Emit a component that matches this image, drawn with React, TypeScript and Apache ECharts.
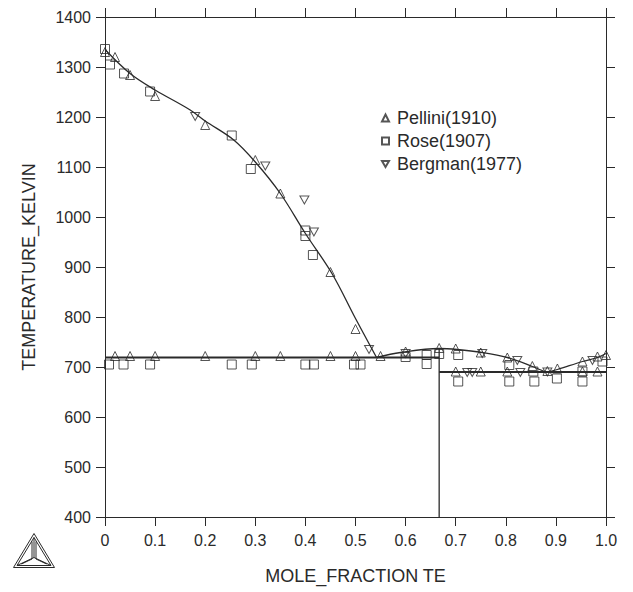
import React, { useEffect, useRef } from "react";
import * as echarts from "echarts";

// Liquidus branch (Te-poor side)
const liqX = [0, 0.05, 0.1, 0.17, 0.2, 0.257, 0.3, 0.35, 0.4, 0.453, 0.5, 0.542];
const liqT = [1335, 1287, 1254, 1214, 1192, 1154, 1110, 1047, 967, 887, 797, 719];
// Compound liquidus (maximum near x = 2/3)
const cmpX = [0.542, 0.59, 0.667, 0.703, 0.753, 0.803, 0.853, 0.881];
const cmpT = [719, 729, 737, 735, 729, 719, 701, 689];
// Te-rich liquidus
const teX = [0.881, 0.903, 0.953, 0.983, 1.0];
const teT = [689, 695, 711, 719, 727];
// Invariant lines
const eut1 = { x0: 0, x1: 0.667, t: 719 };
const eut2 = { x0: 0.667, x1: 1.0, t: 690 };
const compoundX = 0.667;

// Experimental points
const pelliniX = [0.0, 0.02, 0.05, 0.1, 0.2, 0.3, 0.35, 0.45, 0.5,
  0.02, 0.05, 0.1, 0.2, 0.3, 0.35, 0.45, 0.5, 0.55,
  0.6, 0.667, 0.7, 0.75, 0.803, 0.853, 0.883, 0.903, 0.953, 0.983, 1.0,
  0.7, 0.75, 0.803, 0.953, 0.983];
const pelliniT = [1330, 1320, 1284, 1242, 1184, 1114, 1047, 890, 776,
  722, 722, 722, 722, 722, 722, 722, 722, 722,
  731, 738, 737, 729, 719, 702, 692, 697, 711, 721, 724,
  691, 691, 691, 691, 691];
const roseX = [0.0, 0.01, 0.038, 0.09, 0.253, 0.291, 0.4, 0.4, 0.415,
  0.008, 0.037, 0.09, 0.253, 0.293, 0.4, 0.417, 0.497, 0.51,
  0.6, 0.642, 0.642, 0.667, 0.705, 0.807, 0.855, 0.953, 0.993,
  0.705, 0.807, 0.857, 0.902, 0.953];
const roseT = [1336, 1305, 1287, 1251, 1163, 1096, 973, 962, 924,
  705, 705, 705, 705, 705, 705, 705, 705, 705,
  720, 724, 706, 726, 724, 704, 691, 691, 711,
  671, 671, 671, 677, 671];
const bergmanX = [0.18, 0.32, 0.398, 0.417, 0.527, 0.6, 0.753, 0.823, 0.973, 0.883,
  0.723, 0.733, 0.829];
const bergmanT = [1201, 1102, 1034, 970, 735, 727, 727, 713, 713, 690,
  689, 689, 689];

const xTicks = ["0", "0.1", "0.2", "0.3", "0.4", "0.5", "0.6", "0.7", "0.8", "0.9", "1.0"];

const zip = (xs: number[], ys: number[]) => xs.map((x, i) => [x, ys[i]]);

const INK = "#2a2a2a";
const FONT = "Liberation Sans";
const INV_TRI = "path://M0 0L20 0L10 17.3Z";

export default function App() {
  const ref = useRef<HTMLDivElement>(null);
  useEffect(() => {
    if (!ref.current) return;
    const chart = echarts.init(ref.current, undefined, { renderer: "svg" });
    const lineStyle = { color: INK, width: 1.3 };
    const curve = (name: string, xs: number[], ys: number[], smooth: boolean | number = 0.35) => ({
      name, type: "line", data: zip(xs, ys), smooth, symbol: "none", lineStyle, z: 2, silent: true,
    });
    const straight = (name: string, data: number[][], width: number) => ({
      name, type: "line", data, symbol: "none", lineStyle: { color: INK, width }, z: 2, silent: true,
    });
    const marker = { color: "rgba(0,0,0,0)", borderColor: INK, borderWidth: 1 };
    const axisCommon = {
      axisLine: { show: true, onZero: false, lineStyle: { color: INK, width: 1 } },
      axisTick: { show: true, inside: false, length: 9, lineStyle: { color: INK, width: 1 } },
      splitLine: { show: false },
    };
    chart.setOption({
      animation: false,
      backgroundColor: "#fff",
      textStyle: { fontFamily: FONT },
      grid: { left: 105, right: 27, top: 17, bottom: 75 },
      xAxis: [
        {
          type: "value", min: 0, max: 1, interval: 0.1, position: "bottom",
          name: "MOLE_FRACTION TE", nameLocation: "middle", nameGap: 50,
          nameTextStyle: { fontSize: 18, color: INK, fontFamily: FONT },
          ...axisCommon,
          axisLabel: {
            margin: 15, fontSize: 16, color: INK, fontFamily: FONT,
            formatter: (v: number) => xTicks[Math.round(v * 10)] ?? "",
          },
        },
        {
          type: "value", min: 0, max: 1, interval: 0.1, position: "top",
          ...axisCommon, axisLabel: { show: false },
        },
      ],
      yAxis: [
        {
          type: "value", min: 400, max: 1400, interval: 100, position: "left",
          name: "TEMPERATURE_KELVIN", nameLocation: "middle", nameGap: 67,
          nameTextStyle: { fontSize: 18, color: INK, fontFamily: FONT },
          ...axisCommon,
          axisLabel: {
            margin: 14, fontSize: 16, color: INK, fontFamily: FONT,
            formatter: (v: number) => String(v),
          },
        },
        {
          type: "value", min: 400, max: 1400, interval: 100, position: "right",
          ...axisCommon, axisLabel: { show: false },
        },
      ],
      legend: {
        orient: "vertical", left: 376, top: 104, itemGap: 5,
        itemWidth: 7, itemHeight: 7,
        textStyle: { fontSize: 18, color: INK, fontFamily: FONT, padding: [0, 0, 0, 3] },
        data: ["Pellini(1910)", "Rose(1907)", "Bergman(1977)"],
      },
      series: [
        curve("liq", liqX, liqT),
        curve("cmp", cmpX, cmpT),
        curve("te", teX, teT),
        straight("e1", [[eut1.x0, eut1.t], [eut1.x1, eut1.t]], 2),
        straight("e2", [[eut2.x0, eut2.t], [eut2.x1, eut2.t]], 2),
        straight("vert", [[compoundX, 400], [compoundX, 737]], 1.3),
        {
          name: "Pellini(1910)", type: "scatter", symbol: "triangle", symbolSize: 9,
          data: zip(pelliniX, pelliniT), itemStyle: marker, z: 3,
        },
        {
          name: "Rose(1907)", type: "scatter", symbol: "rect", symbolSize: 9,
          data: zip(roseX, roseT), itemStyle: marker, z: 3,
        },
        {
          name: "Bergman(1977)", type: "scatter", symbol: INV_TRI, symbolSize: [9, 8],
          data: zip(bergmanX, bergmanT), itemStyle: marker, z: 3,
        },
      ],
      graphic: [
        {
          type: "group", left: 11, top: 531,
          children: [
            { type: "polygon", shape: { points: [[20.5, 0], [0, 34], [41, 34]] }, style: { fill: "none", stroke: INK, lineWidth: 1 } },
            { type: "polygon", shape: { points: [[20.5, 4], [3.5, 32], [37.5, 32]] }, style: { fill: "none", stroke: INK, lineWidth: 1 } },
            { type: "polyline", shape: { points: [[20.5, 4], [20.5, 24], [3.5, 32]] }, style: { fill: "none", stroke: INK, lineWidth: 1 } },
            { type: "line", shape: { x1: 20.5, y1: 24, x2: 37.5, y2: 32 }, style: { stroke: INK, lineWidth: 1 } },
            { type: "polyline", shape: { points: [[22.5, 8], [22.5, 25.5], [33, 30.5]] }, style: { fill: "none", stroke: INK, lineWidth: 1 } },
            { type: "polyline", shape: { points: [[18.5, 8], [18.5, 25.5], [8, 30.5]] }, style: { fill: "none", stroke: INK, lineWidth: 1 } },
          ],
        },
      ],
    });
    return () => chart.dispose();
  }, []);
  return <div ref={ref} style={{ position: "fixed", left: 0, top: 0, width: 633, height: 592 }} />;
}
